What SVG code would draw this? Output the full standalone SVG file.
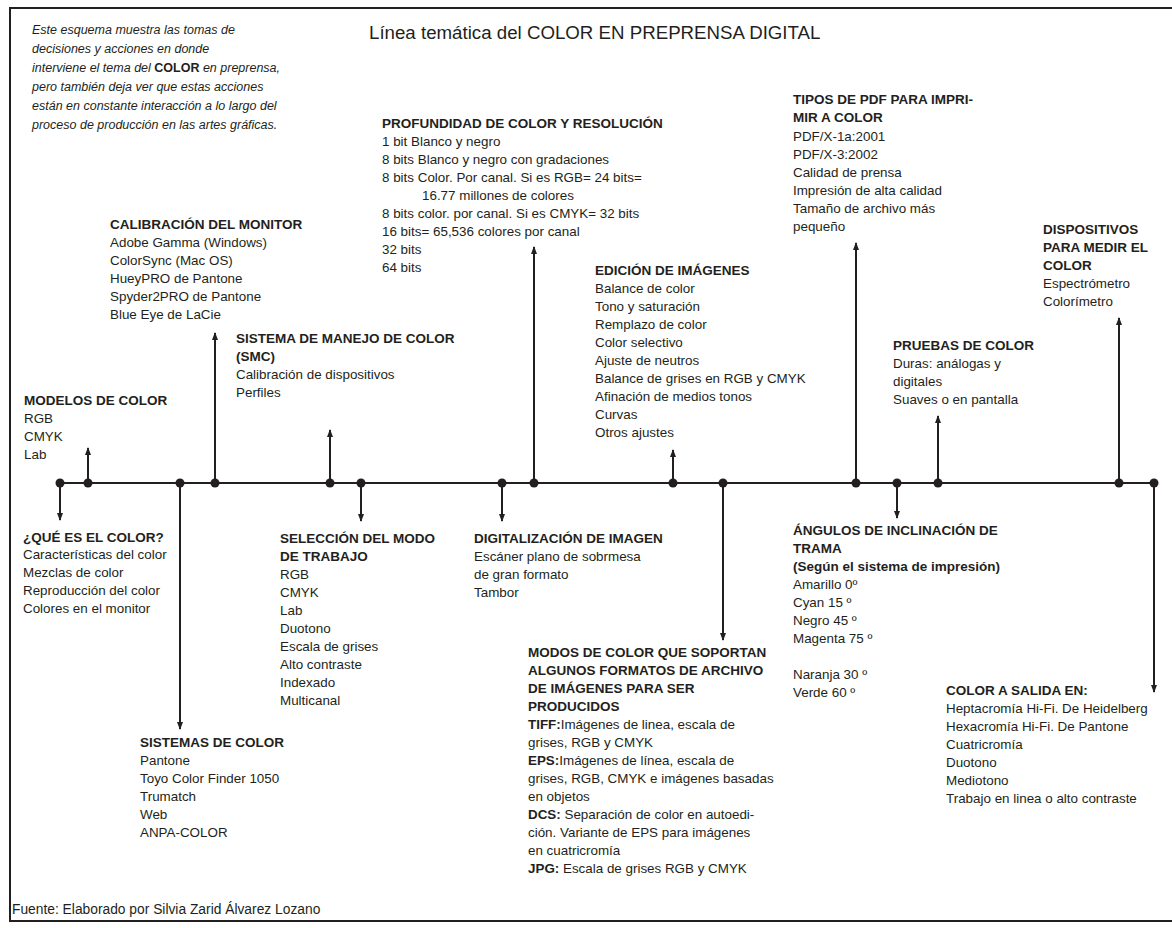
<svg xmlns="http://www.w3.org/2000/svg" width="1172" height="928" viewBox="0 0 1172 928">
<defs>
<style>
text{font-family:"Liberation Sans",Arial,sans-serif;fill:#231f20}
.h{font-size:13.5px;font-weight:bold}
.t{font-size:13.4px}
.b{font-weight:bold}
.i{font-size:12.5px;font-style:italic}
.title{font-size:18.7px}
.foot{font-size:13.8px}
.ln{stroke:#231f20;stroke-width:2;fill:none}
.dot{fill:#231f20}
</style>
<marker id="ah" viewBox="0 0 8 8" refX="7" refY="4" markerWidth="8" markerHeight="8" markerUnits="userSpaceOnUse" orient="auto">
<path d="M0,1 L8,4 L0,7 Z" fill="#231f20"/>
</marker>
</defs>
<rect width="1172" height="928" fill="#fff"/>
<path d="M1172,8 H10 V921 H1172" fill="none" stroke="#231f20" stroke-width="2"/>

<g id="intro">
<text class="i" x="32" y="34">Este esquema muestra las tomas de</text>
<text class="i" x="32" y="53">decisiones y acciones en donde</text>
<text class="i" x="32" y="72">interviene el tema del <tspan font-weight="bold" font-style="normal">COLOR</tspan> en preprensa,</text>
<text class="i" x="32" y="91">pero también deja ver que estas acciones</text>
<text class="i" x="32" y="110">están en constante interacción a lo largo del</text>
<text class="i" x="32" y="129">proceso de producción en las artes gráficas.</text>
</g>
<g id="title"><text class="title" x="369" y="39">Línea temática del COLOR EN PREPRENSA DIGITAL</text></g>

<g id="connectors">
<line class="ln" x1="60" y1="483" x2="1154" y2="483" stroke-width="2.5"/>
<line class="ln" x1="60" y1="483" x2="60" y2="520" marker-end="url(#ah)"/>
<line class="ln" x1="88" y1="483" x2="88" y2="448" marker-end="url(#ah)"/>
<line class="ln" x1="180" y1="483" x2="180" y2="729" marker-end="url(#ah)"/>
<line class="ln" x1="215" y1="483" x2="215" y2="333" marker-end="url(#ah)"/>
<line class="ln" x1="330" y1="483" x2="330" y2="430" marker-end="url(#ah)"/>
<line class="ln" x1="361" y1="483" x2="361" y2="521" marker-end="url(#ah)"/>
<line class="ln" x1="502" y1="483" x2="502" y2="521" marker-end="url(#ah)"/>
<line class="ln" x1="534" y1="483" x2="534" y2="247" marker-end="url(#ah)"/>
<line class="ln" x1="673" y1="483" x2="673" y2="450" marker-end="url(#ah)"/>
<line class="ln" x1="723" y1="483" x2="723" y2="640" marker-end="url(#ah)"/>
<line class="ln" x1="856" y1="483" x2="856" y2="243" marker-end="url(#ah)"/>
<line class="ln" x1="897" y1="483" x2="897" y2="518" marker-end="url(#ah)"/>
<line class="ln" x1="938" y1="483" x2="938" y2="416" marker-end="url(#ah)"/>
<line class="ln" x1="1119" y1="483" x2="1119" y2="318" marker-end="url(#ah)"/>
<line class="ln" x1="1154" y1="483" x2="1154" y2="692" marker-end="url(#ah)"/>
<g class="dot">
<circle cx="60" cy="483" r="4.5"/><circle cx="88" cy="483" r="4.5"/><circle cx="180" cy="483" r="4.5"/><circle cx="215" cy="483" r="4.5"/>
<circle cx="330" cy="483" r="4.5"/><circle cx="361" cy="483" r="4.5"/><circle cx="502" cy="483" r="4.5"/><circle cx="534" cy="483" r="4.5"/>
<circle cx="673" cy="483" r="4.5"/><circle cx="723" cy="483" r="4.5"/><circle cx="856" cy="483" r="4.5"/><circle cx="897" cy="483" r="4.5"/>
<circle cx="938" cy="483" r="4.5"/><circle cx="1119" cy="483" r="4.5"/><circle cx="1154" cy="483" r="4.5"/>
</g>
</g>

<g id="modelos">
<text class="h" x="24" y="405">MODELOS DE COLOR</text>
<text class="t" x="24" y="423">RGB</text>
<text class="t" x="24" y="441">CMYK</text>
<text class="t" x="24" y="459">Lab</text>
</g>
<g id="que-es">
<text class="h" x="23" y="542">¿QUÉ ES EL COLOR?</text>
<text class="t" x="23" y="559">Características del color</text>
<text class="t" x="23" y="577">Mezclas de color</text>
<text class="t" x="23" y="595">Reproducción del color</text>
<text class="t" x="23" y="613">Colores en el monitor</text>
</g>
<g id="calibracion">
<text class="h" x="110" y="229">CALIBRACIÓN DEL MONITOR</text>
<text class="t" x="110" y="247">Adobe Gamma (Windows)</text>
<text class="t" x="110" y="265">ColorSync (Mac OS)</text>
<text class="t" x="110" y="283">HueyPRO de Pantone</text>
<text class="t" x="110" y="301">Spyder2PRO de Pantone</text>
<text class="t" x="110" y="319">Blue Eye de LaCie</text>
</g>
<g id="smc">
<text class="h" x="236" y="343">SISTEMA DE MANEJO DE COLOR</text>
<text class="h" x="236" y="361">(SMC)</text>
<text class="t" x="236" y="379">Calibración de dispositivos</text>
<text class="t" x="236" y="397">Perfiles</text>
</g>
<g id="sistemas">
<text class="h" x="140" y="747">SISTEMAS DE COLOR</text>
<text class="t" x="140" y="765">Pantone</text>
<text class="t" x="140" y="783">Toyo Color Finder 1050</text>
<text class="t" x="140" y="801">Trumatch</text>
<text class="t" x="140" y="819">Web</text>
<text class="t" x="140" y="837">ANPA-COLOR</text>
</g>
<g id="seleccion">
<text class="h" x="280" y="543">SELECCIÓN DEL MODO</text>
<text class="h" x="280" y="561">DE TRABAJO</text>
<text class="t" x="280" y="579">RGB</text>
<text class="t" x="280" y="597">CMYK</text>
<text class="t" x="280" y="615">Lab</text>
<text class="t" x="280" y="633">Duotono</text>
<text class="t" x="280" y="651">Escala de grises</text>
<text class="t" x="280" y="669">Alto contraste</text>
<text class="t" x="280" y="687">Indexado</text>
<text class="t" x="280" y="705">Multicanal</text>
</g>
<g id="profundidad">
<text class="h" x="382" y="128">PROFUNDIDAD DE COLOR Y RESOLUCIÓN</text>
<text class="t" x="382" y="146">1 bit Blanco y negro</text>
<text class="t" x="382" y="164">8 bits Blanco y negro con gradaciones</text>
<text class="t" x="382" y="182">8 bits Color. Por canal. Si es RGB= 24 bits=</text>
<text class="t" x="422" y="200">16.77 millones de colores</text>
<text class="t" x="382" y="218">8 bits color. por canal. Si es CMYK= 32 bits</text>
<text class="t" x="382" y="236">16 bits= 65,536 colores por canal</text>
<text class="t" x="382" y="254">32 bits</text>
<text class="t" x="382" y="272">64 bits</text>
</g>
<g id="digitalizacion">
<text class="h" x="474" y="543">DIGITALIZACIÓN DE IMAGEN</text>
<text class="t" x="474" y="561">Escáner plano de sobrmesa</text>
<text class="t" x="474" y="579">de gran formato</text>
<text class="t" x="474" y="597">Tambor</text>
</g>
<g id="edicion">
<text class="h" x="595" y="275">EDICIÓN DE IMÁGENES</text>
<text class="t" x="595" y="293">Balance de color</text>
<text class="t" x="595" y="311">Tono y saturación</text>
<text class="t" x="595" y="329">Remplazo de color</text>
<text class="t" x="595" y="347">Color selectivo</text>
<text class="t" x="595" y="365">Ajuste de neutros</text>
<text class="t" x="595" y="383">Balance de grises en RGB y CMYK</text>
<text class="t" x="595" y="401">Afinación de medios tonos</text>
<text class="t" x="595" y="419">Curvas</text>
<text class="t" x="595" y="437">Otros ajustes</text>
</g>
<g id="modos">
<text class="h" x="528" y="657">MODOS DE COLOR QUE SOPORTAN</text>
<text class="h" x="528" y="675">ALGUNOS FORMATOS DE ARCHIVO</text>
<text class="h" x="528" y="693">DE IMÁGENES PARA SER</text>
<text class="h" x="528" y="711">PRODUCIDOS</text>
<text class="t" x="528" y="729"><tspan class="b">TIFF:</tspan>Imágenes de linea, escala de</text>
<text class="t" x="528" y="747">grises, RGB y CMYK</text>
<text class="t" x="528" y="765"><tspan class="b">EPS:</tspan>Imágenes de línea, escala de</text>
<text class="t" x="528" y="783">grises, RGB, CMYK e imágenes basadas</text>
<text class="t" x="528" y="801">en objetos</text>
<text class="t" x="528" y="819"><tspan class="b">DCS:</tspan> Separación de color en autoedi-</text>
<text class="t" x="528" y="837">ción. Variante de EPS para imágenes</text>
<text class="t" x="528" y="855">en cuatricromía</text>
<text class="t" x="528" y="873"><tspan class="b">JPG:</tspan> Escala de grises RGB y CMYK</text>
</g>
<g id="pdf">
<text class="h" x="793" y="104">TIPOS DE PDF PARA IMPRI-</text>
<text class="h" x="793" y="122">MIR A COLOR</text>
<text class="t" x="793" y="141">PDF/X-1a:2001</text>
<text class="t" x="793" y="159">PDF/X-3:2002</text>
<text class="t" x="793" y="177">Calidad de prensa</text>
<text class="t" x="793" y="195">Impresión de alta calidad</text>
<text class="t" x="793" y="213">Tamaño de archivo más</text>
<text class="t" x="793" y="231">pequeño</text>
</g>
<g id="pruebas">
<text class="h" x="893" y="350">PRUEBAS DE COLOR</text>
<text class="t" x="893" y="368">Duras: análogas y</text>
<text class="t" x="893" y="386">digitales</text>
<text class="t" x="893" y="404">Suaves o en pantalla</text>
</g>
<g id="angulos">
<text class="h" x="793" y="535">ÁNGULOS DE INCLINACIÓN DE</text>
<text class="h" x="793" y="553">TRAMA</text>
<text class="h" x="793" y="571">(Según el sistema de impresión)</text>
<text class="t" x="793" y="589">Amarillo 0º</text>
<text class="t" x="793" y="607">Cyan 15 º</text>
<text class="t" x="793" y="625">Negro 45 º</text>
<text class="t" x="793" y="643">Magenta 75 º</text>
<text class="t" x="793" y="679">Naranja 30 º</text>
<text class="t" x="793" y="697">Verde 60 º</text>
</g>
<g id="dispositivos">
<text class="h" x="1043" y="234">DISPOSITIVOS</text>
<text class="h" x="1043" y="252">PARA MEDIR EL</text>
<text class="h" x="1043" y="270">COLOR</text>
<text class="t" x="1043" y="288">Espectrómetro</text>
<text class="t" x="1043" y="306">Colorímetro</text>
</g>
<g id="salida">
<text class="h" x="946" y="695">COLOR A SALIDA EN:</text>
<text class="t" x="946" y="713">Heptacromía Hi-Fi. De Heidelberg</text>
<text class="t" x="946" y="731">Hexacromía Hi-Fi. De Pantone</text>
<text class="t" x="946" y="749">Cuatricromía</text>
<text class="t" x="946" y="767">Duotono</text>
<text class="t" x="946" y="785">Mediotono</text>
<text class="t" x="946" y="803">Trabajo en linea o alto contraste</text>
</g>
<g id="fuente"><text class="foot" x="12" y="914">Fuente: Elaborado por Silvia Zarid Álvarez Lozano</text></g>
</svg>
